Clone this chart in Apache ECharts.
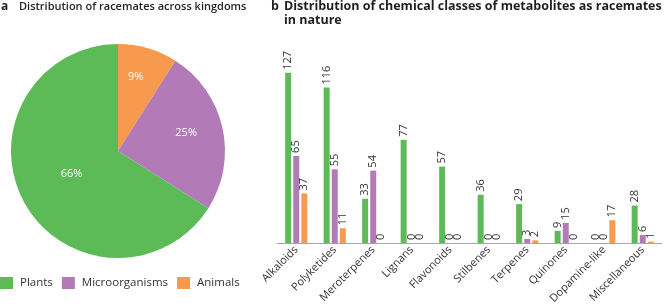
<!DOCTYPE html>
<html>
<head>
<meta charset="utf-8">
<script src="https://cdn.jsdelivr.net/npm/echarts@6/dist/echarts.min.js"></script>
<style>
  html, body { margin: 0; padding: 0; background: #fff; }
  #main { width: 668px; height: 307px; }
</style>
</head>
<body>
<div id="main"></div>
<script>
// pie: share of racemates per kingdom (%)
var kingdoms = ['Animals', 'Microorganisms', 'Plants']
var kingdomShare = [9, 25, 66]
var legendOrder = ['Plants', 'Microorganisms', 'Animals']

// bar: counts per chemical class
var classes = ['Alkaloids', 'Polyketides', 'Meroterpenes', 'Lignans', 'Flavonoids',
  'Stilbenes', 'Terpenes', 'Quinones', 'Dopamine-like', 'Miscellaneous']
var plants = [127, 116, 33, 77, 57, 36, 29, 9, 0, 28]
var microorganisms = [65, 55, 54, 0, 0, 0, 3, 15, 0, 6]
var animals = [37, 11, 0, 0, 0, 0, 2, 0, 17, 1]

var colors = {
  Plants: '#5cba57',
  Microorganisms: '#b27ab7',
  Animals: '#f89a4e'
}
var font = 'Open Sans'
var txt = '#333333'
var dark = '#231f20'

var myChart = echarts.init(document.getElementById('main'))

var barLabel = {
  show: true,
  position: 'top',
  rotate: 90,
  align: 'left',
  verticalAlign: 'middle',
  distance: 3,
  fontFamily: font,
  fontSize: 11,
  color: txt
}

// small nudges so the pie labels sit where they do in the figure
var pieNudge = [[2, -20], [13, -6], [3, -4]]

var option = {
  animation: false,
  textStyle: { fontFamily: font },
  title: [{
    text: 'a',
    left: 1, top: 1, padding: 0,
    textStyle: { fontSize: 12, fontWeight: 'bold', color: dark, fontFamily: font }
  }, {
    text: 'Distribution of racemates across kingdoms',
    left: 19, top: 1, padding: 0,
    textStyle: { fontSize: 11, fontWeight: 600, color: dark, fontFamily: font }
  }, {
    text: 'b',
    left: 271, top: 0, padding: 0,
    textStyle: { fontSize: 12.5, fontWeight: 'bold', color: dark, fontFamily: font }
  }, {
    text: 'Distribution of chemical classes of metabolites as racemates\nin nature',
    left: 284, top: 0, padding: 0,
    textStyle: { fontSize: 12.5, fontWeight: 'bold', color: dark, fontFamily: font, lineHeight: 13.5 }
  }],
  legend: {
    data: legendOrder,
    left: 0,
    top: 277,
    padding: 0,
    itemWidth: 13,
    itemHeight: 12,
    itemGap: 9,
    icon: 'rect',
    textStyle: { fontSize: 11.5, color: txt, fontFamily: font, padding: [0, 0, 0, 2] }
  },
  grid: {
    left: 277,
    right: 6,
    top: 42,
    bottom: 64
  },
  xAxis: {
    type: 'category',
    data: classes,
    axisLine: { lineStyle: { color: '#a6a6a6', width: 1 } },
    axisTick: { show: false },
    axisLabel: {
      rotate: 45,
      interval: 0,
      margin: 5,
      fontSize: 11,
      color: txt,
      fontFamily: font
    }
  },
  yAxis: {
    type: 'value',
    min: 0,
    max: 150,
    show: false,
    splitLine: { show: false }
  },
  series: [{
    type: 'pie',
    center: [118, 151],
    radius: 107,
    startAngle: 90,
    clockwise: true,
    label: {
      show: true,
      position: 'inside',
      formatter: '{c}%',
      color: '#ffffff',
      fontSize: 11,
      fontFamily: font
    },
    labelLine: { show: false },
    labelLayout: function (params) {
      var n = pieNudge[params.dataIndex]
      return { dx: n[0], dy: n[1] }
    },
    emphasis: { disabled: true },
    data: kingdoms.map(function (k, i) {
      return { name: k, value: kingdomShare[i], itemStyle: { color: colors[k] } }
    })
  }, {
    name: 'Plants',
    type: 'bar',
    barWidth: 6,
    barGap: '35%',
    itemStyle: { color: colors.Plants },
    label: barLabel,
    data: plants
  }, {
    name: 'Microorganisms',
    type: 'bar',
    barWidth: 6,
    barGap: '35%',
    itemStyle: { color: colors.Microorganisms },
    label: barLabel,
    data: microorganisms
  }, {
    name: 'Animals',
    type: 'bar',
    barWidth: 6,
    barGap: '35%',
    itemStyle: { color: colors.Animals },
    label: barLabel,
    data: animals
  }]
}

myChart.setOption(option)
</script>
</body>
</html>
